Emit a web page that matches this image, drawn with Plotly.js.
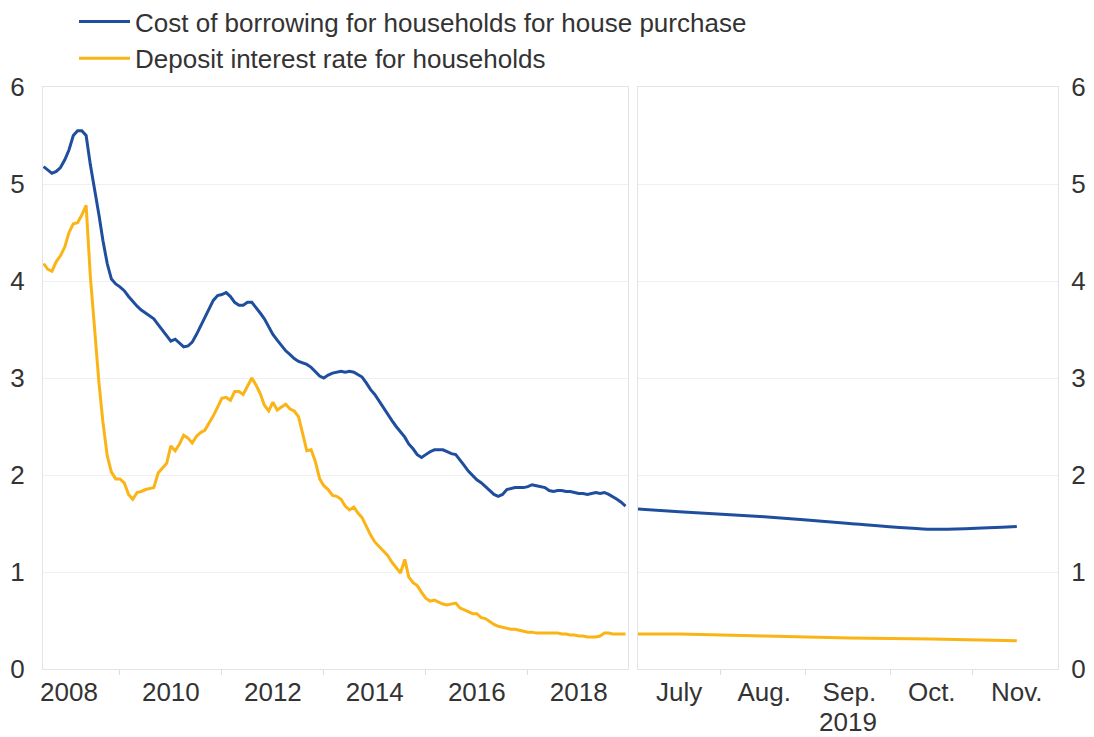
<!DOCTYPE html>
<html>
<head>
<meta charset="utf-8">
<script src="https://cdn.plot.ly/plotly-3.0.1.min.js"></script>
<style>
  html, body { margin: 0; padding: 0; background: #ffffff; }
  #chart { width: 1094px; height: 737px; }
</style>
</head>
<body>
<div id="chart"></div>
<script>
// ---- Data (monthly) ----
var startYear = 2008;            // first month of the long panel: Jan 2008
var seriesNames = ['Cost of borrowing for households for house purchase',
                   'Deposit interest rate for households'];

// Cost of borrowing for households for house purchase, Jan 2008 - Jun 2019 (%)
var borrowingLong = [
  5.18, 5.14, 5.11, 5.13, 5.17, 5.25, 5.35, 5.50, 5.55, 5.55, 5.50, 5.20,
  4.95, 4.68, 4.42, 4.18, 4.02, 3.97, 3.94, 3.90, 3.84, 3.79, 3.74, 3.70,
  3.67, 3.64, 3.61, 3.55, 3.49, 3.43, 3.38, 3.40, 3.36, 3.32, 3.33, 3.37,
  3.45, 3.54, 3.62, 3.71, 3.80, 3.85, 3.86, 3.88, 3.84, 3.78, 3.75, 3.75,
  3.78, 3.78, 3.73, 3.67, 3.61, 3.52, 3.45, 3.39, 3.33, 3.28, 3.24, 3.20,
  3.17, 3.15, 3.14, 3.11, 3.07, 3.02, 3.00, 3.03, 3.05, 3.06, 3.07, 3.06,
  3.07, 3.06, 3.04, 3.01, 2.95, 2.88, 2.83, 2.76, 2.70, 2.63, 2.56, 2.50,
  2.44, 2.39, 2.32, 2.27, 2.21, 2.18, 2.21, 2.24, 2.26, 2.26, 2.26, 2.24,
  2.22, 2.21, 2.16, 2.10, 2.04, 1.99, 1.95, 1.92, 1.88, 1.84, 1.80, 1.78,
  1.80, 1.85, 1.86, 1.87, 1.87, 1.87, 1.88, 1.90, 1.89, 1.88, 1.87, 1.84,
  1.83, 1.84, 1.84, 1.83, 1.83, 1.82, 1.81, 1.81, 1.80, 1.81, 1.82, 1.81,
  1.82, 1.80, 1.78, 1.75, 1.72, 1.68
];

// Deposit interest rate for households, Jan 2008 - Jun 2019 (%)
var depositLong = [
  4.18, 4.12, 4.10, 4.20, 4.26, 4.35, 4.50, 4.59, 4.60, 4.68, 4.78, 4.05,
  3.50, 2.95, 2.55, 2.20, 2.03, 1.96, 1.96, 1.92, 1.80, 1.75, 1.82, 1.83,
  1.85, 1.86, 1.87, 2.02, 2.07, 2.12, 2.30, 2.25, 2.32, 2.41, 2.38, 2.33,
  2.40, 2.44, 2.46, 2.53, 2.61, 2.70, 2.79, 2.80, 2.77, 2.86, 2.86, 2.83,
  2.92, 3.00, 2.93, 2.84, 2.72, 2.66, 2.75, 2.67, 2.70, 2.73, 2.68, 2.66,
  2.60, 2.42, 2.25, 2.26, 2.14, 1.96, 1.89, 1.85, 1.79, 1.78, 1.75, 1.68,
  1.64, 1.67, 1.61, 1.56, 1.47, 1.38, 1.31, 1.26, 1.21, 1.17, 1.10, 1.04,
  0.99, 1.13, 0.95, 0.89, 0.86, 0.79, 0.73, 0.70, 0.71, 0.69, 0.67, 0.66,
  0.67, 0.68, 0.63, 0.61, 0.59, 0.57, 0.57, 0.53, 0.52, 0.49, 0.46, 0.44,
  0.43, 0.42, 0.41, 0.41, 0.40, 0.39, 0.38, 0.38, 0.37, 0.37, 0.37, 0.37,
  0.37, 0.37, 0.36, 0.36, 0.35, 0.35, 0.34, 0.34, 0.33, 0.33, 0.33, 0.34,
  0.37, 0.37, 0.36, 0.36, 0.36, 0.36
];

// Short panel, 2019 (June is the point just left of the panel edge)
var months2019 = ['2019-06-01', '2019-07-01', '2019-08-01', '2019-09-01', '2019-10-01', '2019-11-01'];
var borrowing2019 = [1.68, 1.62, 1.57, 1.50, 1.44, 1.47];
var deposit2019 = [0.36, 0.36, 0.34, 0.32, 0.31, 0.29];

// Tick labels
var yearTickDates = ['2008-07-01', '2010-07-01', '2012-07-01', '2014-07-01', '2016-07-01', '2018-07-01'];
var yearTickLabels = ['2008', '2010', '2012', '2014', '2016', '2018'];
var monthTickDates = ['2019-07-01', '2019-08-01', '2019-09-01', '2019-10-01', '2019-11-01'];
var monthTickLabels = ['July', 'Aug.', 'Sep.', 'Oct.', 'Nov.'];
var yTickVals = [0, 1, 2, 3, 4, 5, 6];

// ---- Month axis for the long panel ----
function pad(n) { return (n < 10 ? '0' : '') + n; }
var monthsLong = [];
for (var i = 0; i < borrowingLong.length; i++) {
  var y = startYear + Math.floor(i / 12);
  var m = (i % 12) + 1;
  monthsLong.push(y + '-' + pad(m) + '-01');
}

var BLUE = '#1f4e9e';
var YELLOW = '#fbb416';
var FONT = 'Liberation Sans, Arial, Helvetica, sans-serif';
var TXT = '#333333';
var FS = 26;

var traces = [
  { x: monthsLong, y: borrowingLong, type: 'scatter', mode: 'lines', name: seriesNames[0],
    line: { color: BLUE, width: 3 }, xaxis: 'x', yaxis: 'y', legendgroup: 'a' },
  { x: monthsLong, y: depositLong, type: 'scatter', mode: 'lines', name: seriesNames[1],
    line: { color: YELLOW, width: 3 }, xaxis: 'x', yaxis: 'y', legendgroup: 'b' },
  { x: months2019, y: borrowing2019, type: 'scatter', mode: 'lines', name: seriesNames[0],
    line: { color: BLUE, width: 3, shape: 'spline', smoothing: 0.6 }, xaxis: 'x2', yaxis: 'y2',
    showlegend: false, legendgroup: 'a' },
  { x: months2019, y: deposit2019, type: 'scatter', mode: 'lines', name: seriesNames[1],
    line: { color: YELLOW, width: 3, shape: 'spline', smoothing: 0.6 }, xaxis: 'x2', yaxis: 'y2',
    showlegend: false, legendgroup: 'b' }
];

var W = 1094, H = 737;
var yDom = [1 - 669 / H, 1 - 87 / H];

var layout = {
  width: W, height: H,
  margin: { l: 0, r: 0, t: 0, b: 0, autoexpand: false },
  paper_bgcolor: '#ffffff',
  plot_bgcolor: '#ffffff',
  font: { family: FONT, size: FS, color: TXT },
  showlegend: true,
  legend: {
    x: 74 / W, y: 1 + 2 / H, xanchor: 'left', yanchor: 'top',
    font: { family: FONT, size: FS, color: TXT },
    itemwidth: 51, tracegroupgap: 0, bgcolor: 'rgba(0,0,0,0)'
  },
  xaxis: {
    type: 'date', domain: [43 / W, 628 / W], anchor: 'y',
    range: ['2007-12-28', '2019-06-19'],
    tickmode: 'array', tickvals: yearTickDates, ticktext: yearTickLabels,
    ticks: '', ticklabelstandoff: 0,
    showgrid: false, zeroline: false,
    showline: true, mirror: true, linecolor: '#e4e4e4', linewidth: 1,
    tickfont: { family: FONT, size: FS, color: TXT },
    minor: { tickvals: ['2009-07-01', '2011-07-01', '2013-07-01', '2015-07-01', '2017-07-01'],
             ticks: 'outside', ticklen: 5, tickcolor: '#dddddd', showgrid: false }
  },
  yaxis: {
    domain: yDom, anchor: 'x', range: [0, 6],
    tickmode: 'array', tickvals: yTickVals,
    ticks: '', ticklabelstandoff: 12,
    showgrid: true, gridcolor: '#efefef', gridwidth: 1, zeroline: false,
    showline: true, mirror: true, linecolor: '#e4e4e4', linewidth: 1,
    tickfont: { family: FONT, size: FS, color: TXT }
  },
  xaxis2: {
    type: 'date', domain: [638 / W, 1058 / W], anchor: 'y2',
    range: ['2019-06-16', '2019-11-16'],
    tickmode: 'array', tickvals: monthTickDates, ticktext: monthTickLabels,
    ticks: '', ticklabelstandoff: 0,
    showgrid: false, zeroline: false,
    showline: true, mirror: true, linecolor: '#e4e4e4', linewidth: 1,
    tickfont: { family: FONT, size: FS, color: TXT },
    minor: { tickvals: ['2019-07-16', '2019-08-16', '2019-09-16', '2019-10-16'],
             ticks: 'outside', ticklen: 5, tickcolor: '#dddddd', showgrid: false }
  },
  yaxis2: {
    domain: yDom, anchor: 'x2', range: [0, 6], side: 'right',
    tickmode: 'array', tickvals: yTickVals,
    ticks: '', ticklabelstandoff: 7,
    showgrid: true, gridcolor: '#efefef', gridwidth: 1, zeroline: false,
    showline: true, mirror: true, linecolor: '#e4e4e4', linewidth: 1,
    tickfont: { family: FONT, size: FS, color: TXT }
  },
  annotations: [
    { text: '2019', xref: 'paper', yref: 'paper', x: 848 / W, y: 1 - 722 / H,
      xanchor: 'center', yanchor: 'middle', showarrow: false,
      font: { family: FONT, size: FS, color: TXT } }
  ]
};

Plotly.newPlot('chart', traces, layout, { staticPlot: true, displayModeBar: false });
</script>
</body>
</html>
